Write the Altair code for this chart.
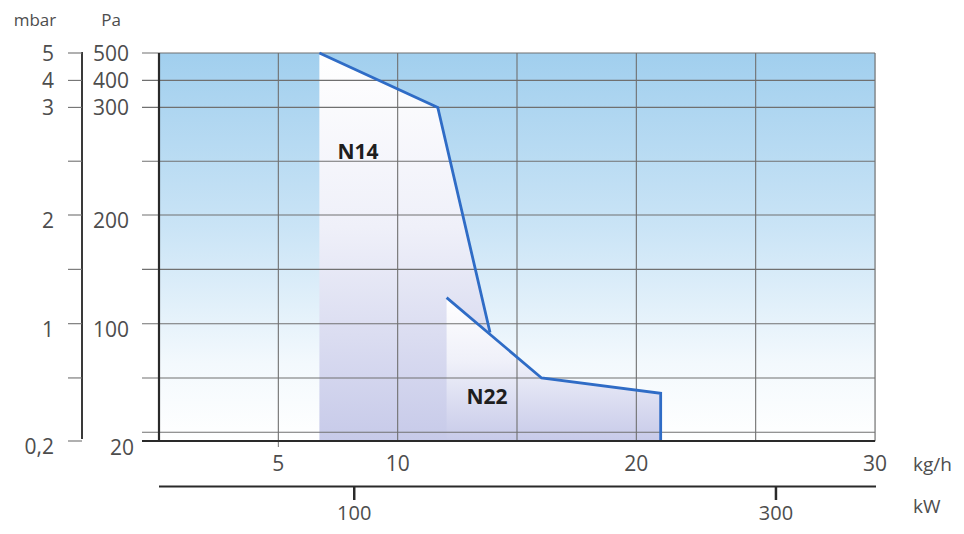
import altair as alt
import pandas as pd

# ---- data ----
kg_grid = [5, 10, 15, 20, 25, 30]
pa_grid = [20, 26, 63, 100, 150, 200, 250, 300, 400, 500]
pa_labels = [20, 100, 200, 300, 400, 500]
mbar_labels = ["0,2", "1", "2", "3", "4", "5"]
mbar_ticks_pa = [20, 63, 100, 150, 200, 250, 300, 400, 500]
x_labels = [5, 10, 20, 30]
kw_labels = ["100", "300"]
kw_at_kgh = [8.18, 25.85]

n14_kg = [6.72, 11.68, 13.87]
n14_pa = [500, 300, 94]
n22_kg = [12.05, 16.03, 21.02, 21.02]
n22_pa = [124, 63, 52.5, 20]

W, H = 716, 388
FONT = "Open Sans"
TXT = "#4d4d4d"
GRID = "#707070"
LINE = "#2f6cc6"
FS = 21

xscale = alt.Scale(domain=[0, 30], nice=False, zero=False)
yscale = alt.Scale(domain=[20, 100, 200, 300, 400, 500],
                   range=[388, 270.7, 162, 54.4, 27.4, 0], nice=False, zero=False)

one = pd.DataFrame({"a": [0]})

bg = alt.Chart(one).mark_rect(
    color=alt.Gradient(gradient="linear", x1=0, x2=0, y1=0, y2=1, stops=[
        alt.GradientStop(offset=0, color="#a1cfee"),
        alt.GradientStop(offset=0.45, color="#cae4f6"),
        alt.GradientStop(offset=0.8, color="#f3f9fd"),
        alt.GradientStop(offset=1, color="#ffffff")])
).encode(x=alt.value(0), x2=alt.value(W), y=alt.value(0), y2=alt.value(H))

area_grad = alt.Gradient(gradient="linear", x1=0, x2=0, y1=0, y2=1, stops=[
    alt.GradientStop(offset=0, color="#ffffff"),
    alt.GradientStop(offset=0.45, color="#eff0f9"),
    alt.GradientStop(offset=1, color="#c7cae9")])

df14 = pd.DataFrame({"kg": n14_kg, "pa": n14_pa})
df22a = pd.DataFrame({"kg": n22_kg[:3], "pa": n22_pa[:3]})

area14 = alt.Chart(df14).mark_area(color=area_grad).encode(
    x=alt.X("kg:Q", scale=xscale, axis=None),
    y=alt.Y("pa:Q", scale=yscale, axis=None),
    y2=alt.Y2Datum(20))
area22 = alt.Chart(df22a).mark_area(color=area_grad).encode(
    x=alt.X("kg:Q", scale=xscale, axis=None),
    y=alt.Y("pa:Q", scale=yscale, axis=None),
    y2=alt.Y2Datum(20))

vgrid = alt.Chart(pd.DataFrame({"kg": kg_grid})).mark_rule(color=GRID, strokeWidth=1.1).encode(
    x=alt.X("kg:Q", scale=xscale, axis=None), y=alt.value(0), y2=alt.value(H))
hgrid = alt.Chart(pd.DataFrame({"pa": pa_grid[1:]})).mark_rule(color=GRID, strokeWidth=1.1).encode(
    y=alt.Y("pa:Q", scale=yscale, axis=None), x=alt.value(-17), x2=alt.value(W))

left_border = alt.Chart(one).mark_rule(color="#2a2a2a", strokeWidth=2.2).encode(
    x=alt.value(0), y=alt.value(0), y2=alt.value(H + 1))
bottom_border = alt.Chart(one).mark_rule(color="#2a2a2a", strokeWidth=2.2).encode(
    x=alt.value(-17), x2=alt.value(W), y=alt.value(H))
x5tick = alt.Chart(pd.DataFrame({"kg": [5]})).mark_rule(color=GRID, strokeWidth=1).encode(
    x=alt.X("kg:Q", scale=xscale, axis=None), y=alt.value(H), y2=alt.value(H + 6))

lines_df = pd.DataFrame({
    "kg": n14_kg + n22_kg,
    "pa": n14_pa + n22_pa,
    "s": ["N14"] * len(n14_kg) + ["N22"] * len(n22_kg),
    "o": list(range(len(n14_kg))) + list(range(len(n22_kg)))})
lines = alt.Chart(lines_df).mark_line(color=LINE, strokeWidth=2.8, strokeJoin="miter").encode(
    x=alt.X("kg:Q", scale=xscale, axis=None),
    y=alt.Y("pa:Q", scale=yscale, axis=None),
    detail="s:N", order="o:Q")

# Pa / mbar labels
pa_df = pd.DataFrame({"pa": pa_labels, "t": [str(v) for v in pa_labels], "mb": mbar_labels})


def lab(filt, field, xpos, dy):
    return alt.Chart(pa_df).transform_filter(filt).mark_text(
        align="right", baseline="middle", font=FONT, fontSize=FS, color=TXT, dy=dy).encode(
        y=alt.Y("pa:Q", scale=yscale, axis=None), x=alt.value(xpos), text=f"{field}:N")


pa_upper = lab("datum.pa >= 300", "t", -30, 2)
pa_lower = lab("datum.pa < 300 && datum.pa > 20", "t", -30, 7)
pa_bottom = lab("datum.pa == 20", "t", -25, 8)
mb_upper = lab("datum.pa >= 300", "mb", -105, 2)
mb_lower = lab("datum.pa < 300", "mb", -105, 7)

mb_axis = alt.Chart(one).mark_rule(color="#3a3a3a", strokeWidth=2).encode(
    x=alt.value(-77), y=alt.value(-1), y2=alt.value(H - 2))
mb_ticks = alt.Chart(pd.DataFrame({"pa": mbar_ticks_pa})).mark_rule(color=GRID, strokeWidth=1.1).encode(
    y=alt.Y("pa:Q", scale=yscale, axis=None), x=alt.value(-91), x2=alt.value(-77))

x_lab = alt.Chart(pd.DataFrame({"kg": x_labels})).mark_text(
    align="center", baseline="middle", font=FONT, fontSize=FS, color=TXT).encode(
    x=alt.X("kg:Q", scale=xscale, axis=None), y=alt.value(412), text="kg:Q")

kw_line = alt.Chart(one).mark_rule(color="#2a2a2a", strokeWidth=2).encode(
    x=alt.value(0), x2=alt.value(W + 1), y=alt.value(433.5))
kw_df = pd.DataFrame({"kg": kw_at_kgh, "t": kw_labels})
kw_ticks = alt.Chart(kw_df).mark_rule(color="#2a2a2a", strokeWidth=2.5).encode(
    x=alt.X("kg:Q", scale=xscale, axis=None), y=alt.value(433.5), y2=alt.value(447))
kw_text = alt.Chart(kw_df).mark_text(
    align="center", baseline="alphabetic", font=FONT, fontSize=FS - 1, color=TXT).encode(
    x=alt.X("kg:Q", scale=xscale, axis=None), y=alt.value(467), text="t:N")

units = alt.Chart(pd.DataFrame({"t": ["kg/h", "kW"], "yy": [412, 454]})).mark_text(
    align="left", baseline="middle", font=FONT, fontSize=19, color=TXT).encode(
    x=alt.value(754), y=alt.Y("yy:Q", scale=None, axis=None), text="t:N")

titles = alt.Chart(pd.DataFrame({"t": ["mbar", "Pa"], "xx": [-124, -48]})).mark_text(
    align="center", baseline="middle", font=FONT, fontSize=17, color=TXT).encode(
    x=alt.X("xx:Q", scale=None, axis=None), y=alt.value(-32), text="t:N")

n14_lab = alt.Chart(one).mark_text(font=FONT, fontSize=21, fontWeight="bold", color="#1e1e1e",
                                   baseline="middle").encode(
    x=alt.XDatum(8.34), y=alt.YDatum(258), text=alt.value("N14"))
n22_lab = alt.Chart(one).mark_text(font=FONT, fontSize=21, fontWeight="bold", color="#1e1e1e",
                                   baseline="middle").encode(
    x=alt.XDatum(13.74), y=alt.YDatum(49.5), text=alt.value("N22"))

chart = alt.layer(
    bg, area14, area22, vgrid, hgrid, x5tick, lines, left_border, bottom_border,
    pa_upper, pa_lower, pa_bottom, mb_upper, mb_lower, mb_axis, mb_ticks,
    x_lab, kw_line, kw_ticks, kw_text, units, titles, n14_lab, n22_lab
).properties(
    width=W, height=H,
    autosize=alt.AutoSizeParams(type="none"),
    padding={"left": 151, "top": 45, "right": 81, "bottom": 86},
).configure_view(stroke=None).configure(background="white")

chart.save("out.html", embed_options={"renderer": "svg", "actions": False})
